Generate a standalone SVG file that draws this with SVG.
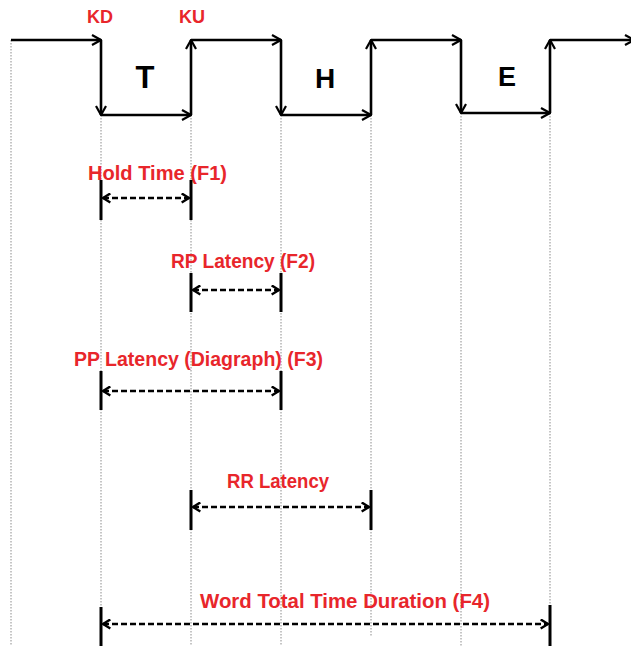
<svg xmlns="http://www.w3.org/2000/svg" width="631" height="646" viewBox="0 0 631 646">
<defs>
<style>
.grid{stroke:#8c8c8c;stroke-width:1;stroke-dasharray:1.5,1.5;fill:none}
.wave{stroke:#000;stroke-width:2.6;fill:none}
.dim{stroke:#000;stroke-width:2.4;stroke-dasharray:6,3;fill:none}
.tick{stroke:#000;stroke-width:3;fill:none}
.red{font-family:"Liberation Sans",Arial,sans-serif;font-weight:bold;fill:#e8262b}
.big{font-family:"Liberation Sans",Arial,sans-serif;font-weight:bold;fill:#000}
</style>
<marker id="ah" viewBox="0 0 12 12" refX="11" refY="6" markerWidth="12" markerHeight="12" markerUnits="userSpaceOnUse" orient="auto">
<path d="M2,1 L11,6 L2,11" fill="none" stroke="#000" stroke-width="2.2"/>
</marker>
<marker id="dh" viewBox="0 0 12 12" refX="11" refY="6" markerWidth="11" markerHeight="11" markerUnits="userSpaceOnUse" orient="auto-start-reverse">
<path d="M3,1 L11,6 L3,11" fill="none" stroke="#000" stroke-width="2.6"/>
</marker>
</defs>
<rect width="631" height="646" fill="#fff"/>
<g id="gridlines">
<line class="grid" x1="11" y1="40" x2="11" y2="646"/>
<line class="grid" x1="101" y1="115" x2="101" y2="646"/>
<line class="grid" x1="191" y1="115" x2="191" y2="646"/>
<line class="grid" x1="281" y1="115" x2="281" y2="646"/>
<line class="grid" x1="371" y1="115" x2="371" y2="637"/>
<line class="grid" x1="461" y1="113" x2="461" y2="646"/>
<line class="grid" x1="550" y1="113" x2="550" y2="646"/>
</g>
<g id="connectors">
<line class="wave" x1="11" y1="40" x2="101" y2="40" marker-end="url(#ah)"/>
<line class="wave" x1="101" y1="40" x2="101" y2="115" marker-end="url(#ah)"/>
<line class="wave" x1="101" y1="115" x2="191" y2="115" marker-end="url(#ah)"/>
<line class="wave" x1="191" y1="115" x2="191" y2="40" marker-end="url(#ah)"/>
<line class="wave" x1="191" y1="40" x2="281" y2="40" marker-end="url(#ah)"/>
<line class="wave" x1="281" y1="40" x2="281" y2="115" marker-end="url(#ah)"/>
<line class="wave" x1="281" y1="115" x2="371" y2="115" marker-end="url(#ah)"/>
<line class="wave" x1="371" y1="115" x2="371" y2="40" marker-end="url(#ah)"/>
<line class="wave" x1="371" y1="40" x2="461" y2="40" marker-end="url(#ah)"/>
<line class="wave" x1="461" y1="40" x2="461" y2="113" marker-end="url(#ah)"/>
<line class="wave" x1="461" y1="113" x2="550" y2="113" marker-end="url(#ah)"/>
<line class="wave" x1="550" y1="113" x2="550" y2="40" marker-end="url(#ah)"/>
<line class="wave" x1="550" y1="40" x2="634" y2="40" marker-end="url(#ah)"/>
</g>
<g id="labels-top">
<text class="red" x="100" y="23" font-size="18" text-anchor="middle">KD</text>
<text class="red" x="192" y="23" font-size="18" text-anchor="middle">KU</text>
<text class="big" x="145" y="88" font-size="31" text-anchor="middle">T</text>
<text class="big" x="325" y="88" font-size="28" text-anchor="middle">H</text>
<text class="big" x="507" y="86" font-size="27" text-anchor="middle">E</text>
</g>
<g id="hold-time">
<text class="red" x="88" y="180" font-size="19.5" textLength="139" lengthAdjust="spacingAndGlyphs">Hold Time (F1)</text>
<line class="tick" x1="101" y1="180" x2="101" y2="220"/>
<line class="tick" x1="191" y1="180" x2="191" y2="220"/>
<line class="dim" x1="103" y1="198" x2="189" y2="198" marker-start="url(#dh)" marker-end="url(#dh)"/>
</g>
<g id="rp-latency">
<text class="red" x="171" y="268" font-size="19.5" textLength="144" lengthAdjust="spacingAndGlyphs">RP Latency (F2)</text>
<line class="tick" x1="191" y1="273" x2="191" y2="312"/>
<line class="tick" x1="281" y1="273" x2="281" y2="312"/>
<line class="dim" x1="193" y1="290" x2="279" y2="290" marker-start="url(#dh)" marker-end="url(#dh)"/>
</g>
<g id="pp-latency">
<text class="red" x="74" y="366" font-size="19.5" textLength="249" lengthAdjust="spacingAndGlyphs">PP Latency (Diagraph) (F3)</text>
<line class="tick" x1="101" y1="371" x2="101" y2="410"/>
<line class="tick" x1="281" y1="371" x2="281" y2="410"/>
<line class="dim" x1="103" y1="391" x2="279" y2="391" marker-start="url(#dh)" marker-end="url(#dh)"/>
</g>
<g id="rr-latency">
<text class="red" x="227" y="488" font-size="19.5" textLength="102" lengthAdjust="spacingAndGlyphs">RR Latency</text>
<line class="tick" x1="191" y1="490" x2="191" y2="530"/>
<line class="tick" x1="371" y1="490" x2="371" y2="530"/>
<line class="dim" x1="193" y1="507" x2="369" y2="507" marker-start="url(#dh)" marker-end="url(#dh)"/>
</g>
<g id="word-total">
<text class="red" x="200" y="608" font-size="19.5" textLength="290" lengthAdjust="spacingAndGlyphs">Word Total Time Duration (F4)</text>
<line class="tick" x1="101" y1="607" x2="101" y2="646"/>
<line class="tick" x1="550" y1="605" x2="550" y2="646"/>
<line class="dim" x1="103" y1="624" x2="548" y2="624" marker-start="url(#dh)" marker-end="url(#dh)"/>
</g>
</svg>
